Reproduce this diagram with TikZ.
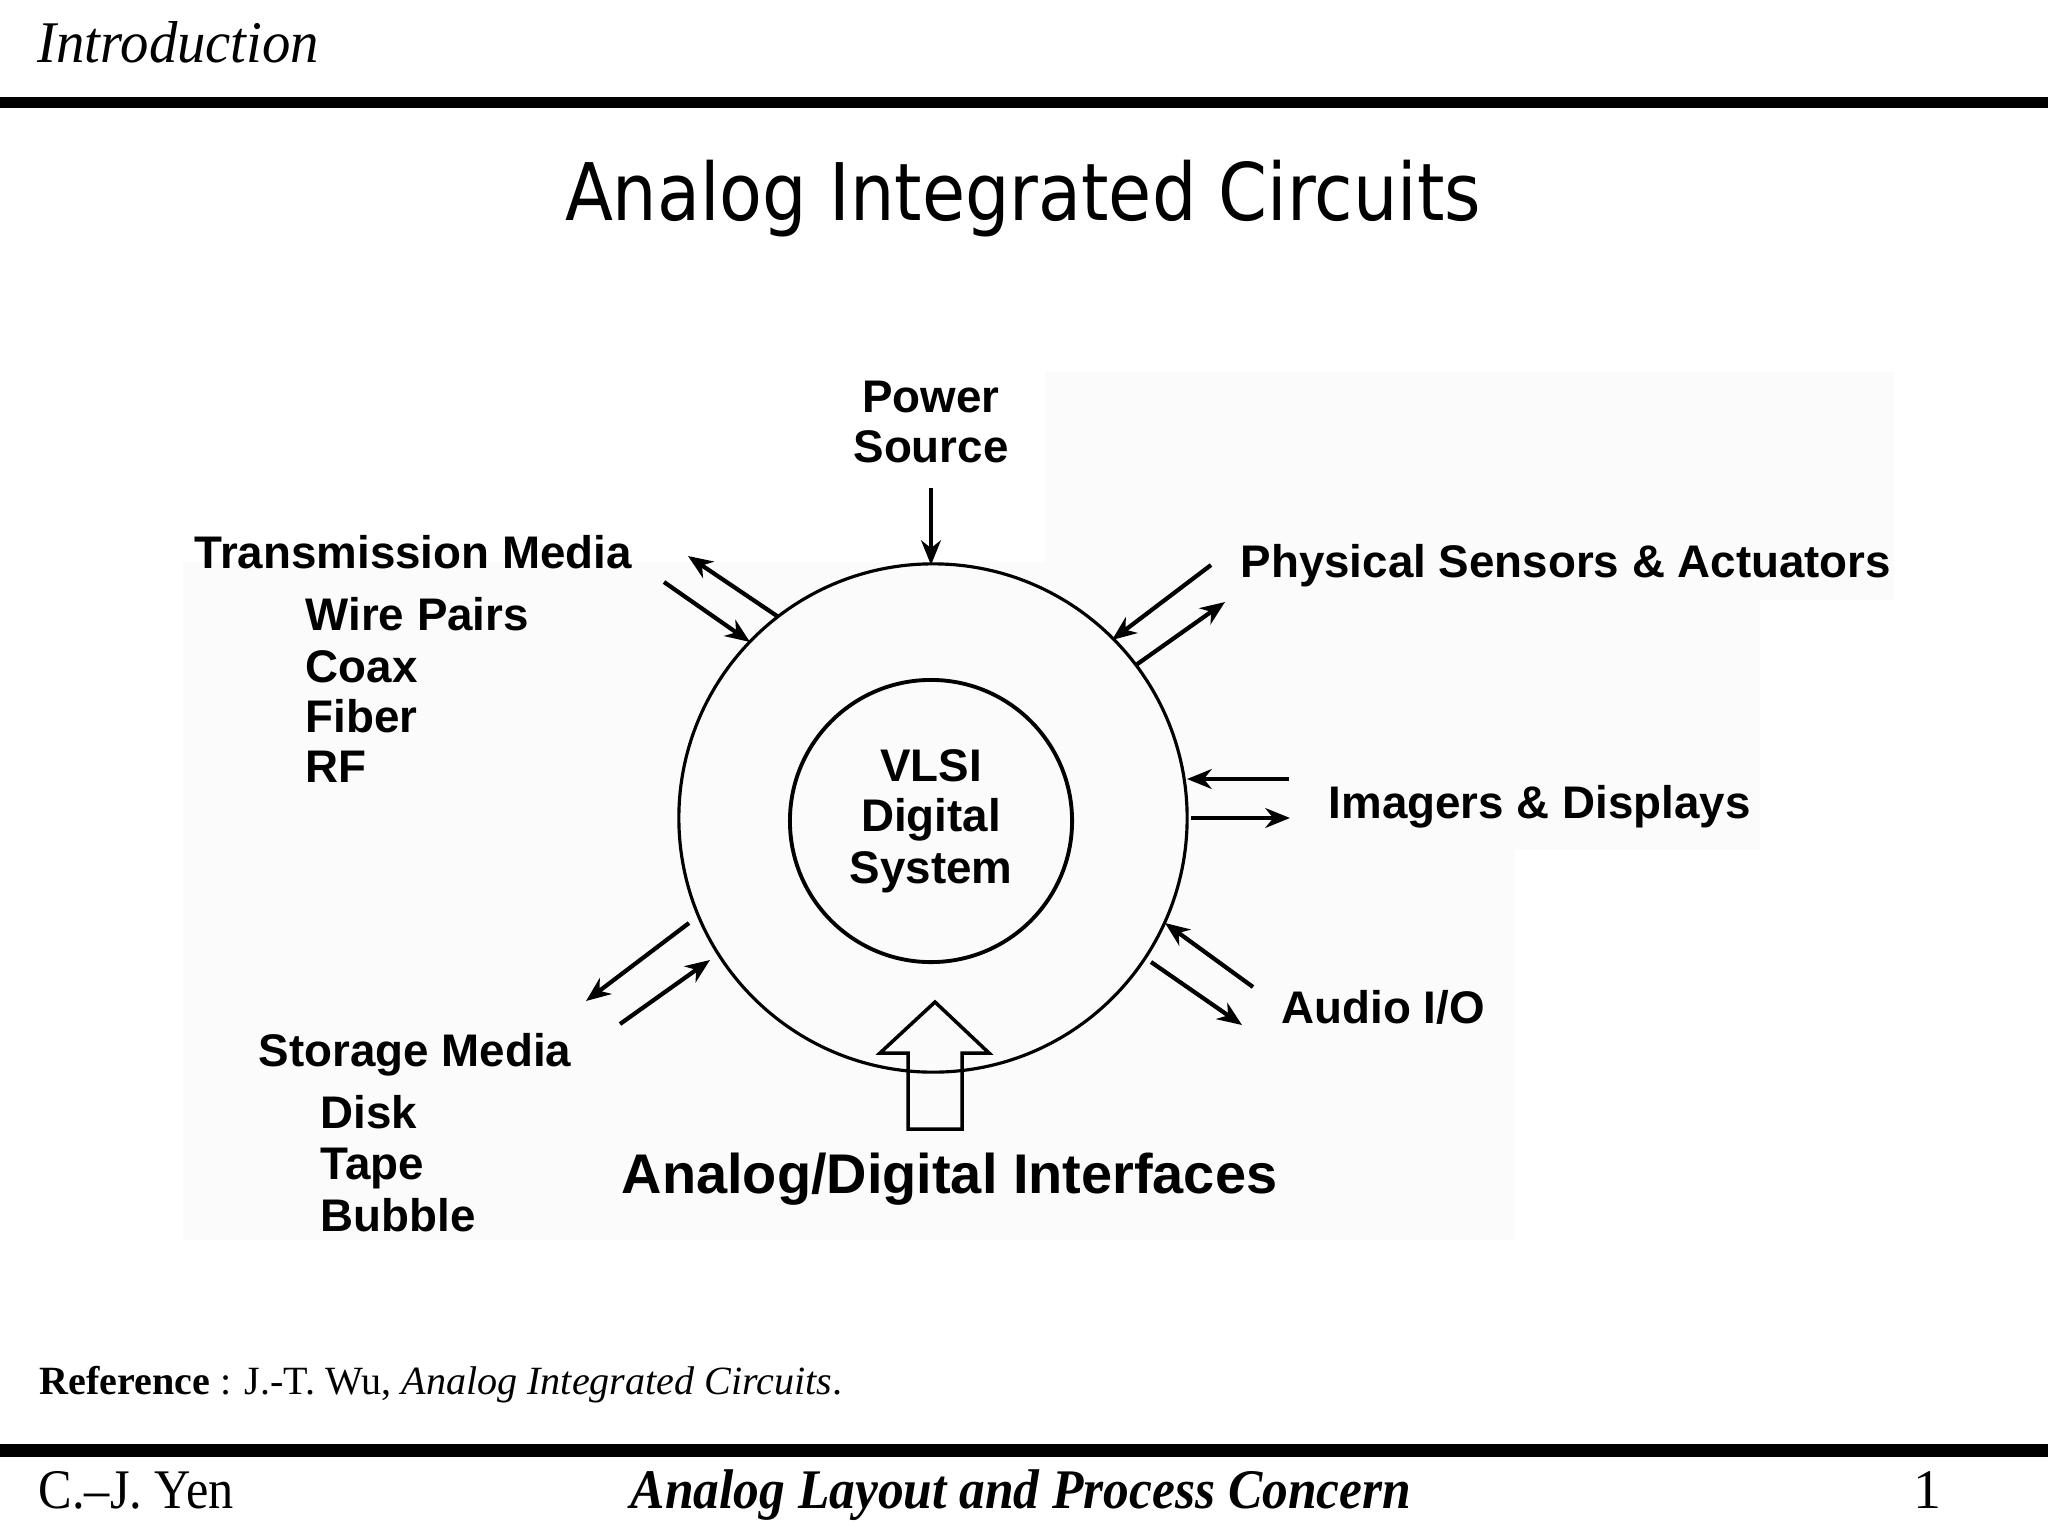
\documentclass[tikz,border=0pt]{standalone}
\usepackage{fontspec}
\usepackage{graphicx}
\setmainfont{Liberation Serif}
\setsansfont{Liberation Sans}
\newfontfamily\titlefont{DejaVu Sans}
\usetikzlibrary{arrows.meta}
\newcommand\sqz[2]{\scalebox{#1}[1]{#2}}
\begin{document}
\begin{tikzpicture}[x=0.01cm,y=-0.01cm,
  dtext/.style={font={\fontsize{13pt}{14pt}\selectfont\sffamily\bfseries}, inner sep=0pt, anchor=base west},
  ctext/.style={font={\fontsize{13pt}{14pt}\selectfont\sffamily\bfseries}, inner sep=0pt, anchor=base},
  sig/.style={line width=1.2pt, -{Stealth[length=7pt,width=5.6pt,inset=2.2pt]}},
  ring/.style={draw, circle, line width=0.9pt, inner sep=0pt},
  hdr/.style={inner sep=0pt}
]
\useasboundingbox (0,0) rectangle (2048,1536);
% faint scanned background
\fill[gray!3] (183,562) rectangle (1320,1240);
\fill[gray!3] (1045,372) rectangle (1894,600);
\fill[gray!3] (1180,600) rectangle (1760,850);
\fill[gray!3] (1180,850) rectangle (1515,1240);
\fill[gray!3] (1045,372) rectangle (1180,600);

% header
\node[hdr, anchor=base west, font={\fontsize{16.8pt}{18pt}\selectfont\itshape}] (intro) at (37,62) {\sqz{0.96}{Introduction}};
\fill (0,97) rectangle (2048,108);
\node[hdr, anchor=base, font={\fontsize{22.6pt}{24pt}\selectfont\titlefont}] (title) at (1023,220) {\sqz{0.882}{Analog Integrated Circuits}};

% circles
\node[ring, minimum size=5.08cm] (outer) at (933,818) {};
\node[ring, minimum size=2.82cm, line width=1.1pt] (inner) at (931,821) {};
\node[ctext] (v1) at (931,781) {VLSI};
\node[ctext] (v2) at (931,831) {Digital};
\node[ctext] (v3) at (931,883) {System};

% power source
\node[ctext] (pw1) at (931,412) {Power};
\node[ctext] (pw2) at (931,462) {Source};
\coordinate (pwa) at (931,488);
\coordinate (pwb) at (931,565);
\draw[sig] (pwa) -- (pwb);

% transmission media
\node[dtext] (tm) at (194,568) {Transmission Media};
\node[dtext] (tm1) at (305,630) {Wire Pairs};
\node[dtext] (tm2) at (305,682) {Coax};
\node[dtext] (tm3) at (305,732) {Fiber};
\node[dtext] (tm4) at (305,782) {RF};
\coordinate (tmoa) at (777,616); \coordinate (tmob) at (688,556);
\coordinate (tmia) at (664,582); \coordinate (tmib) at (750,642);
\draw[sig] (tmoa) -- (tmob);
\draw[sig] (tmia) -- (tmib);

% physical sensors
\node[dtext] (ps) at (1240,577) {Physical Sensors \& Actuators};
\coordinate (psia) at (1211,565); \coordinate (psib) at (1112,640);
\coordinate (psoa) at (1136,665); \coordinate (psob) at (1225,602);
\draw[sig] (psia) -- (psib);
\draw[sig] (psoa) -- (psob);

% imagers
\node[dtext] (im) at (1328,818) {Imagers \& Displays};
\coordinate (imia) at (1289,779); \coordinate (imib) at (1187,779);
\coordinate (imoa) at (1191,818); \coordinate (imob) at (1290,818);
\draw[sig] (imia) -- (imib);
\draw[sig] (imoa) -- (imob);

% audio
\node[dtext] (au) at (1281,1023) {Audio I/O};
\coordinate (auia) at (1253,987); \coordinate (auib) at (1165,923);
\coordinate (auoa) at (1151,962); \coordinate (auob) at (1242,1025);
\draw[sig] (auia) -- (auib);
\draw[sig] (auoa) -- (auob);

% storage media
\node[dtext] (sm) at (258,1066) {Storage Media};
\node[dtext] (sm1) at (320,1128) {Disk};
\node[dtext] (sm2) at (320,1179) {Tape};
\node[dtext] (sm3) at (320,1231) {Bubble};
\coordinate (smoa) at (689,923); \coordinate (smob) at (586,1001);
\coordinate (smia) at (620,1024); \coordinate (smib) at (710,960);
\draw[sig] (smoa) -- (smob);
\draw[sig] (smia) -- (smib);

% analog/digital interfaces big arrow
\draw[line width=1pt, line join=miter] (908,1129) -- (908,1053) -- (880,1053) -- (935,1002) -- (989,1053) -- (962,1053) -- (962,1129) -- cycle;
\node[dtext, font={\fontsize{15.9pt}{17pt}\selectfont\sffamily\bfseries}] (adi) at (621,1193) {Analog/Digital Interfaces};

% reference and footer
\node[hdr, anchor=base west, font={\fontsize{11.4pt}{13pt}\selectfont}] (ref) at (39,1394) {\textbf{Reference} : J.-T. Wu, \textit{Analog Integrated Circuits}.};
\fill (0,1444) rectangle (2048,1457);
\node[hdr, anchor=base west, font={\fontsize{15.9pt}{17pt}\selectfont}] (auth) at (38,1508) {\sqz{0.9}{C.–J. Yen}};
\node[hdr, anchor=base, font={\fontsize{15.9pt}{17pt}\selectfont\bfseries\itshape}] (course) at (1021,1508) {\sqz{0.92}{Analog Layout and Process Concern}};
\node[hdr, anchor=base, font={\fontsize{15.9pt}{17pt}\selectfont}] (pg) at (1927,1508) {1};
\end{tikzpicture}
\end{document}
